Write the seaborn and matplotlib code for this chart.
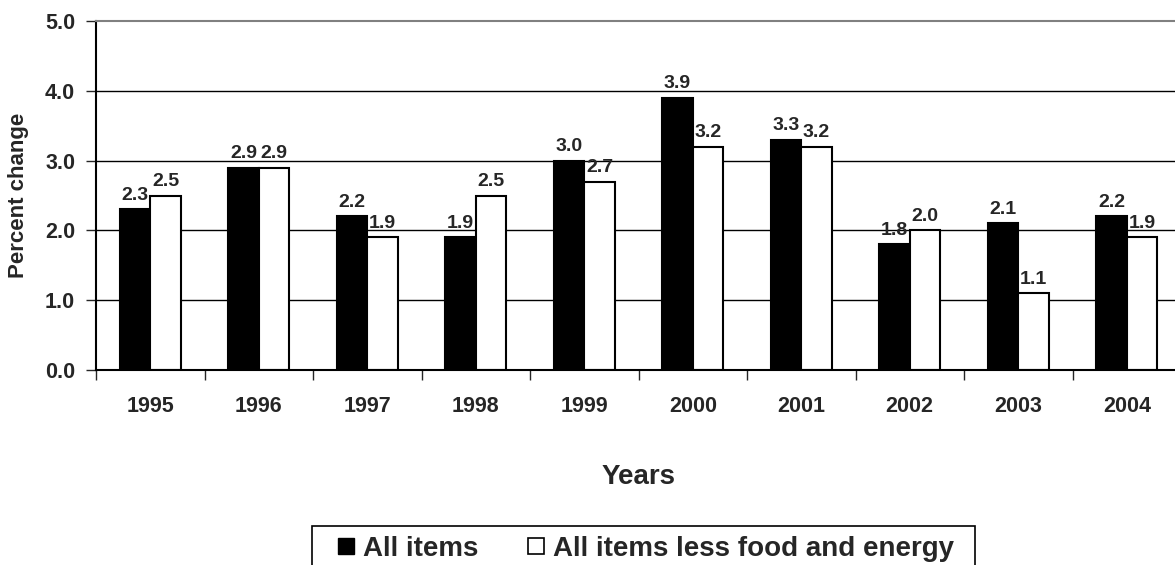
import numpy as np
import pandas as pd
import matplotlib
matplotlib.use("Agg")
import matplotlib.pyplot as plt
from matplotlib.lines import Line2D
from matplotlib.patches import Rectangle
from matplotlib.ticker import FixedLocator, FormatStrFormatter
import seaborn as sns

# data
years = ["1995", "1996", "1997", "1998", "1999", "2000", "2001", "2002", "2003", "2004"]
all_items = [2.3, 2.9, 2.2, 1.9, 3.0, 3.9, 3.3, 1.8, 2.1, 2.2]
core_items = [2.5, 2.9, 1.9, 2.5, 2.7, 3.2, 3.2, 2.0, 1.1, 1.9]
series_names = ["All items", "All items less food and energy"]
y_ticks = [0.0, 1.0, 2.0, 3.0, 4.0, 5.0]

df = pd.DataFrame({
    "year": years * 2,
    "value": all_items + core_items,
    "series": [series_names[0]] * len(years) + [series_names[1]] * len(years),
})

sns.set_style("white")
plt.rcParams["font.family"] = ["Liberation Sans", "DejaVu Sans"]
plt.rcParams["font.weight"] = "bold"

W, H = 1175, 565
fig = plt.figure(figsize=(W / 100, H / 100), dpi=100)
# axes runs a little past the right edge, as in the reference
ax = fig.add_axes([96 / W, 195 / H, 1085 / W, 349 / H])

sns.barplot(data=df, x="year", y="value", hue="series", palette=["black", "white"],
            edgecolor="black", linewidth=1.5, width=0.56, ax=ax, legend=False)

# value labels
for cont in ax.containers:
    ax.bar_label(cont, fmt="%.1f", padding=4, fontsize=14, fontweight="bold")

ax.set_ylim(0, 5)
ax.set_xlim(-0.5, len(years) - 0.5)
ax.set_yticks(y_ticks)
ax.yaxis.set_major_formatter(FormatStrFormatter("%.1f"))
for y in y_ticks[1:-1]:
    ax.axhline(y, color="black", linewidth=1, zorder=0)

# spines
ax.spines["right"].set_visible(False)
ax.spines["top"].set_color("#808080")
ax.spines["top"].set_linewidth(1.5)
for s in ["left", "bottom"]:
    ax.spines[s].set_color("black")
    ax.spines[s].set_linewidth(1.5)

ax.tick_params(axis="y", direction="out", length=7, width=1, pad=8, labelsize=15.5, left=True)
ax.tick_params(axis="x", which="major", length=0, pad=18.7, labelsize=15.5)
ax.xaxis.set_minor_locator(FixedLocator(np.arange(-0.5, len(years), 1.0)))
ax.tick_params(axis="x", which="minor", direction="out", length=7, width=1, bottom=True)
for lab in ax.get_xticklabels() + ax.get_yticklabels():
    lab.set_fontweight("bold")

ax.set_xlabel("Years", fontsize=20, fontweight="bold", va="center")
ax.xaxis.set_label_coords(0.5, -0.307)
ax.set_ylabel("Percent change", fontsize=16, fontweight="bold", va="center")
ax.yaxis.set_label_coords(-77 / 1085, 0.5)

# legend: box drawn by hand so its width matches, runs off the bottom edge
fig.patches.append(Rectangle((312 / W, -0.05), (975 - 312) / W, (565 - 526) / H + 0.05,
                             transform=fig.transFigure, fill=False, edgecolor="black", linewidth=1.2))
handles = [
    Line2D([], [], marker="s", linestyle="none", markersize=11.5,
           markerfacecolor="black", markeredgecolor="black"),
    Line2D([], [], marker="s", linestyle="none", markersize=11.5,
           markerfacecolor="white", markeredgecolor="black", markeredgewidth=1.2),
]
fig.legend(handles, series_names, loc="upper left", bbox_to_anchor=(317 / W, 1 - 536 / H),
           ncol=2, frameon=False, borderpad=0, borderaxespad=0, handlelength=2.09,
           handletextpad=-0.43, columnspacing=1.02, prop={"weight": "bold", "size": 20})

fig.savefig("out.png", dpi=100)
